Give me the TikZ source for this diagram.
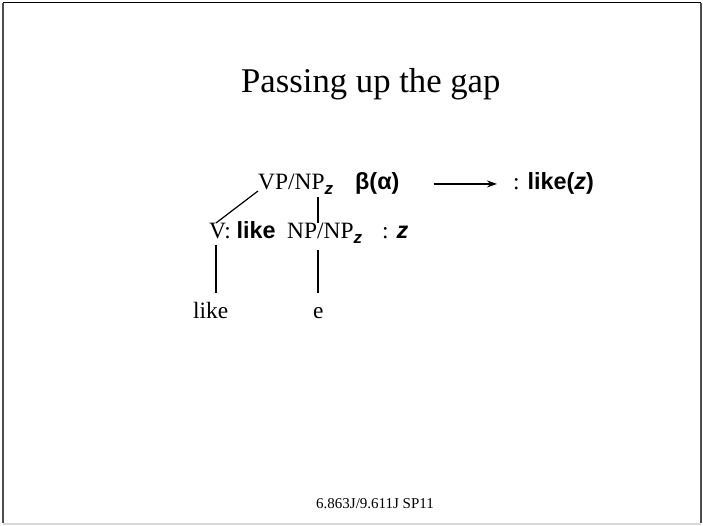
\documentclass[tikz,border=0pt]{standalone}
\usepackage{fontspec}
\setmainfont{Liberation Serif}
\newfontfamily\sansfam{Liberation Sans}
\usetikzlibrary{arrows.meta,positioning}
\newcommand{\sembf}[1]{{\sansfam\bfseries #1}}
\newcommand{\gapz}{\raisebox{-5pt}{\fontsize{17}{17}\selectfont\sansfam\bfseries\itshape z}}

\begin{document}
\begin{tikzpicture}[x=1pt, y=-1pt, >={Stealth[length=10pt,width=7pt]},
    every node/.style={inner sep=0pt, anchor=base west},
    branch/.style={line width=1.2pt},
    font=\fontsize{23.4}{28}\selectfont]
  \useasboundingbox (0,0) rectangle (703,526);
  % slide frame
  \draw[line width=1pt] (3,3) -- (701,3);
  \draw[gray!60!black, line width=1.5pt] (3,3) -- (3,523);
  \draw[gray!60!black, line width=2pt] (701,3) -- (701,523);
  \draw[gray!30, line width=1.5pt] (3,524) -- (701,524);

  \node[font=\fontsize{34.7}{40}\selectfont] (title) at (241,93) {Passing up the gap};

  \node (vp) at (258,190) {VP/NP\gapz};
  \node (beta) at (355,190) {\sembf{β(α)}};
  \node (sem) at (513,190) {: \sembf{like(\textit{z})}};
  \draw[->, line width=1.2pt] ([xshift=34pt]beta.east) -- ([xshift=-16pt]sem.west);

  \node (v) at (209,239) {V: \sembf{like}};
  \node (np) at (287,239) {NP/NP\gapz};
  \node (npsem) at (382,239) {: \sembf{\textit{z}}};

  \node (like) at (193,318) {like};
  \node (e) at (313,318) {e};

  \coordinate (vp-l) at (258,191);
  \coordinate (vp-r) at (318,197);
  \coordinate (v-top) at (216,223);
  \coordinate (np-top) at (318,223);
  \coordinate (v-bot) at (216,245);
  \coordinate (np-bot) at (318,250);
  \coordinate (like-top) at (216,293);
  \coordinate (e-top) at (318,293);
  \draw[branch] (vp-l) -- (v-top);
  \draw[branch] (vp-r) -- (np-top);
  \draw[branch] (v-bot) -- (like-top);
  \draw[branch] (np-bot) -- (e-top);

  \node[font=\fontsize{15}{18}\selectfont] (foot) at (316,508) {6.863J/9.611J SP11};
\end{tikzpicture}
\end{document}
